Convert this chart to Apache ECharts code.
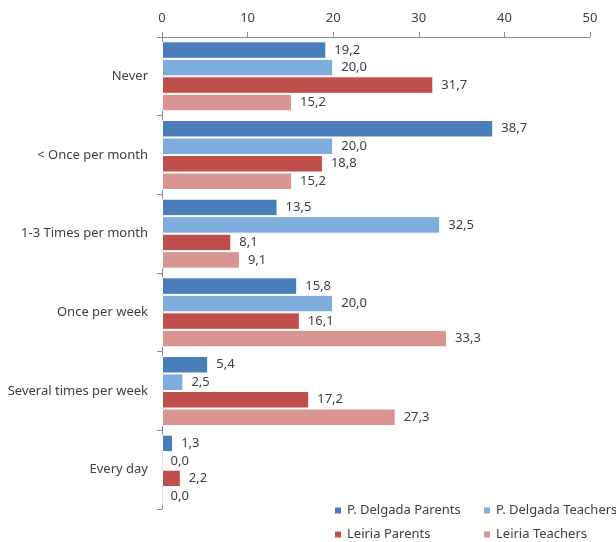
<!DOCTYPE html>
<html>
<head>
<meta charset="utf-8">
<script src="https://cdn.jsdelivr.net/npm/echarts@6/dist/echarts.min.js"></script>
<style>
  html, body { margin: 0; padding: 0; background: #fff; }
  #chart { width: 616px; height: 542px; }
</style>
</head>
<body>
<div id="chart"></div>
<script>
// Frequency categories (top to bottom)
const categories = ['Never', '< Once per month', '1-3 Times per month', 'Once per week', 'Several times per week', 'Every day'];

// Percentages per group
const pdParents   = [19.2, 38.7, 13.5, 15.8, 5.4, 1.3];
const pdTeachers  = [20.0, 20.0, 32.5, 20.0, 2.5, 0.0];
const leParents   = [31.7, 18.8, 8.1, 16.1, 17.2, 2.2];
const leTeachers  = [15.2, 15.2, 9.1, 33.3, 27.3, 0.0];

const seriesNames = ['P. Delgada Parents', 'P. Delgada Teachers', 'Leiria Parents', 'Leiria Teachers'];
const seriesData = [pdParents, pdTeachers, leParents, leTeachers];
const colors = ['#4a7ebb', '#7eacdd', '#be4f4c', '#d99593'];

const xTicks = { min: 0, max: 50, interval: 10 };

const FONT = 'Noto Sans';
const TEXT = '#404040';

const chart = echarts.init(document.getElementById('chart'), null, { renderer: 'canvas' });

const series = seriesNames.map((name, i) => ({
  name,
  type: 'bar',
  data: seriesData[i],
  barGap: '0%',
  barCategoryGap: '11%',
  itemStyle: { color: colors[i], borderColor: '#ffffff', borderWidth: 1 },
  label: {
    show: true,
    position: 'right',
    distance: 8,
    color: TEXT,
    fontFamily: FONT,
    fontSize: 13,
    formatter: p => p.value.toFixed(1).replace('.', ',')
  }
}));

// 2 x 2 legend block in the lower right corner
const legendSlots = [
  { left: 333, top: 504 },
  { left: 482, top: 504 },
  { left: 333, top: 528 },
  { left: 482, top: 528 }
];
const legends = seriesNames.map((name, i) => ({
  data: [name],
  left: legendSlots[i].left,
  top: legendSlots[i].top,
  icon: 'rect',
  itemWidth: 8,
  itemHeight: 8,
  itemGap: 0,
  padding: 0,
  textStyle: { color: TEXT, fontFamily: FONT, fontSize: 13 }
}));

chart.setOption({
  animation: false,
  backgroundColor: '#ffffff',
  color: colors,
  grid: { left: 162, right: 26, top: 37, bottom: 33, containLabel: false },
  legend: legends,
  xAxis: {
    type: 'value',
    position: 'top',
    min: xTicks.min,
    max: xTicks.max,
    interval: xTicks.interval,
    axisLine: { show: true, lineStyle: { color: '#8c8c8c', width: 1 } },
    axisTick: { show: true, inside: false, length: 5, lineStyle: { color: '#8c8c8c' } },
    splitLine: { show: false },
    axisLabel: { color: TEXT, fontFamily: FONT, fontSize: 13, margin: 12 }
  },
  yAxis: {
    type: 'category',
    inverse: true,
    data: categories,
    axisLine: { show: true, lineStyle: { color: '#8c8c8c', width: 1 } },
    axisTick: { show: true, length: 5, lineStyle: { color: '#8c8c8c' } },
    axisLabel: { color: TEXT, fontFamily: FONT, fontSize: 13, margin: 14 }
  },
  series
});
</script>
</body>
</html>
